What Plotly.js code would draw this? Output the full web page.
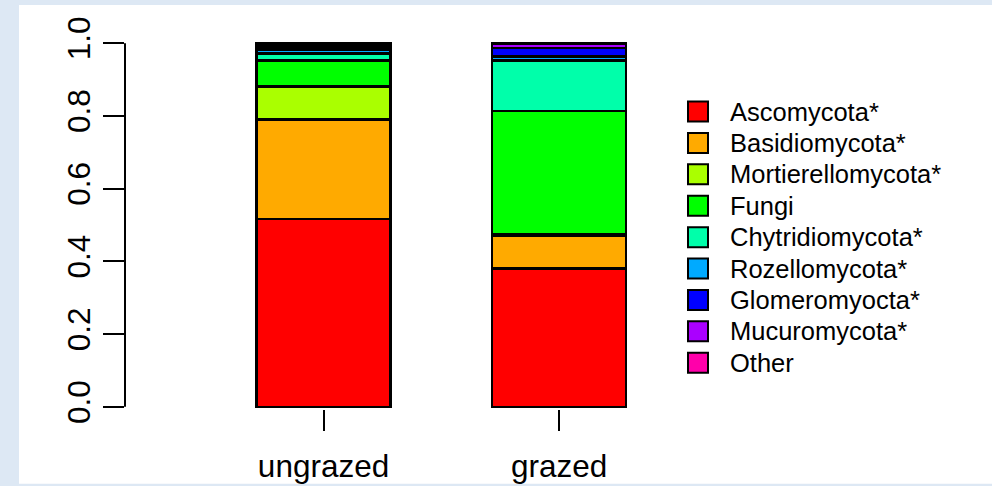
<!DOCTYPE html>
<html>
<head>
<meta charset="utf-8">
<script src="https://cdn.plot.ly/plotly-3.0.1.min.js"></script>
<style>html,body{margin:0;padding:0;background:#dde8f4;}#chart{width:992px;height:486px;}</style>
</head>
<body>
<div id="chart"></div>
<script>
// ---- data ----
const groups = ['ungrazed', 'grazed'];
const phyla = ['Ascomycota*', 'Basidiomycota*', 'Mortierellomycota*', 'Fungi', 'Chytridiomycota*', 'Rozellomycota*', 'Glomeromyocta*', 'Mucuromycota*', 'Other'];
const ungrazed = [0.516, 0.274, 0.091, 0.071, 0.019, 0.011, 0.007, 0.005, 0.006];
const grazed   = [0.381, 0.089, 0.004, 0.340, 0.138, 0.011, 0.024, 0.011, 0.002];
const colors = ['#FF0000', '#FFAA00', '#AAFF00', '#00FF00', '#00FFAA', '#00AAFF', '#0000FF', '#AA00FF', '#FF00AA'];
const yTicks = [0, 0.2, 0.4, 0.6, 0.8, 1.0];
const yTickText = ['0.0', '0.2', '0.4', '0.6', '0.8', '1.0'];

// ---- layout geometry (pixels) ----
const L = 125, R = 970, T = 41.1, B = 409.2;
const W = R - L, H = B - T;
const px2x = px => (px - L) / W;
const py2y = py => (B - py) / H;
const FONT = 'Liberation Sans, Arial, sans-serif';

const traces = phyla.map((p, i) => ({
  type: 'bar',
  x: groups,
  y: [ungrazed[i], grazed[i]],
  name: p,
  width: 0.569,
  marker: {color: colors[i], line: {color: '#000000', width: 2.5}},
  showlegend: false,
  hoverinfo: 'name+y'
}));

const shapes = [
  // white panel
  {type: 'rect', xref: 'paper', yref: 'paper', layer: 'below',
   x0: px2x(19), x1: px2x(995), y0: py2y(484), y1: py2y(5),
   fillcolor: '#ffffff', line: {width: 0}},
  // y axis line from 0 to 1
  {type: 'line', xref: 'paper', yref: 'y', x0: 0, x1: 0, y0: 0, y1: 1,
   line: {color: '#000000', width: 2}}
];
const annotations = [];
phyla.forEach((p, i) => {
  const cy = 111.7 + i * 31.4;
  shapes.push({type: 'rect', xref: 'paper', yref: 'paper',
    x0: px2x(688), x1: px2x(708), y0: py2y(cy + 10), y1: py2y(cy - 10),
    fillcolor: colors[i], line: {color: '#000000', width: 2}});
  annotations.push({xref: 'paper', yref: 'paper', x: px2x(728), y: py2y(cy),
    xanchor: 'left', yanchor: 'middle', text: p, showarrow: false,
    font: {family: FONT, size: 25.5, color: '#000000'}});
});

const layout = {
  width: 992, height: 486,
  margin: {l: L, r: 992 - R, t: T, b: 486 - B, pad: 0},
  paper_bgcolor: '#dde8f4',
  plot_bgcolor: 'rgba(0,0,0,0)',
  barmode: 'stack',
  font: {family: FONT, size: 31.5, color: '#000000'},
  xaxis: {
    range: [-0.843, 2.745], showgrid: false, zeroline: false, showline: false,
    ticks: 'outside', ticklen: 21, tickwidth: 2, tickcolor: '#000000',
    ticklabelstandoff: 8,
    tickfont: {family: FONT, size: 31.5, color: '#000000'}, fixedrange: true
  },
  yaxis: {
    range: [-0.006, 1.006], showgrid: false, zeroline: false, showline: false,
    tickvals: yTicks, ticktext: yTickText, tickangle: -90,
    ticks: 'outside', ticklen: 21, tickwidth: 2, tickcolor: '#000000',
    tickfont: {family: FONT, size: 31.5, color: '#000000'}, fixedrange: true
  },
  shapes: shapes,
  annotations: annotations,
  showlegend: false
};

Plotly.newPlot('chart', traces, layout, {displayModeBar: false, staticPlot: true});
</script>
</body>
</html>
